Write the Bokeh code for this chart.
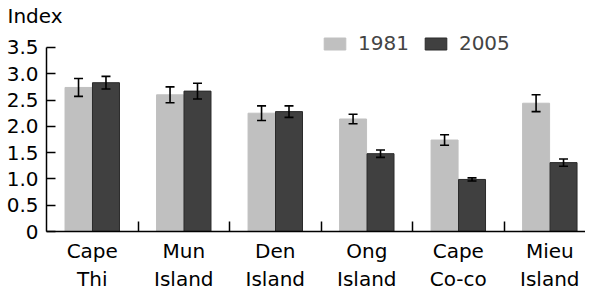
from bokeh.plotting import figure
from bokeh.models import (ColumnDataSource, Whisker, TeeHead, FixedTicker, Legend,
                          LegendItem, Range1d, PrintfTickFormatter)
from bokeh.embed import file_html
from bokeh.resources import INLINE

categories = ["Cape\nThi", "Mun\nIsland", "Den\nIsland", "Ong\nIsland", "Cape\nCo-co", "Mieu\nIsland"]
v1981 = [2.74, 2.60, 2.25, 2.14, 1.74, 2.44]
e1981 = [0.17, 0.15, 0.14, 0.09, 0.10, 0.16]
v2005 = [2.83, 2.67, 2.28, 1.48, 0.99, 1.31]
e2005 = [0.12, 0.15, 0.11, 0.07, 0.03, 0.07]
y_ticks = [0, 0.5, 1.0, 1.5, 2.0, 2.5, 3.0, 3.5]

FONT = "DejaVu Sans"
LIGHT = "#c0c0c0"
DARK = "#404040"

n = len(categories)
centers = [i + 0.5 for i in range(n)]
off = 0.15
bw = 0.295

src1 = ColumnDataSource(dict(x=[c - off for c in centers], top=v1981,
                             up=[v + e for v, e in zip(v1981, e1981)],
                             lo=[v - e for v, e in zip(v1981, e1981)]))
src2 = ColumnDataSource(dict(x=[c + off for c in centers], top=v2005,
                             up=[v + e for v, e in zip(v2005, e2005)],
                             lo=[v - e for v, e in zip(v2005, e2005)]))

p = figure(frame_width=539, frame_height=202, output_backend="svg", toolbar_location=None,
           x_range=Range1d(0, 5.89), y_range=Range1d(0, 3.842),
           min_border_left=46, min_border_right=0, min_border_top=0, min_border_bottom=0,
           title="Index")
p.outline_line_color = None
p.grid.grid_line_color = None
p.background_fill_color = "white"
p.title.align = "left"
p.title.offset = -39
p.title.text_font = FONT
p.title.text_font_size = "20px"
p.title.text_font_style = "normal"
p.title.text_color = "black"
p.title.standoff = 3

r1 = p.vbar(x="x", top="top", width=bw, source=src1, fill_color=LIGHT, line_color=LIGHT)
r2 = p.vbar(x="x", top="top", width=bw, source=src2, fill_color=DARK, line_color="#2a2a2a")

for s in (src1, src2):
    w = Whisker(base="x", upper="up", lower="lo", source=s, line_color="black", line_width=1.6,
                level="overlay",
                upper_head=TeeHead(size=9, line_color="black", line_width=1.6),
                lower_head=TeeHead(size=9, line_color="black", line_width=1.6))
    p.add_layout(w)

# y axis
ya = p.yaxis[0]
ya.bounds = (0, 3.5)
ya.ticker = FixedTicker(ticks=y_ticks)
ya.formatter = PrintfTickFormatter(format="%.1f")
ya.major_label_overrides = {0: "0"}
ya.major_tick_in = 9
ya.major_tick_out = 0
ya.minor_tick_in = 0
ya.minor_tick_out = 0
ya.axis_line_width = 1.5
ya.major_tick_line_width = 1.5
ya.major_label_text_font = FONT
ya.major_label_text_font_size = "20px"
ya.major_label_text_color = "black"
ya.major_label_standoff = 8

# x axis
xa = p.xaxis[0]
xa.ticker = FixedTicker(ticks=centers, minor_ticks=list(range(1, n)))
xa.major_label_overrides = {c: lab for c, lab in zip(centers, categories)}
xa.major_tick_in = 0
xa.major_tick_out = 0
xa.minor_tick_in = 10
xa.minor_tick_out = 0
xa.minor_tick_line_width = 1.5
xa.minor_tick_line_color = "black"
xa.axis_line_width = 1.5
xa.major_label_text_font = FONT
xa.major_label_text_font_size = "20px"
xa.major_label_text_color = "black"
xa.major_label_text_line_height = 1.2
xa.major_label_standoff = 7

legend = Legend(items=[LegendItem(label="1981", renderers=[r1]),
                       LegendItem(label="2005", renderers=[r2])],
                orientation="horizontal", location=(275, 176),
                glyph_width=27, glyph_height=15, label_standoff=10, spacing=13,
                padding=0, margin=0, border_line_color=None, background_fill_alpha=0,
                label_text_font=FONT, label_text_font_size="20px", label_height=15)
p.add_layout(legend, "center")

open("out.html", "w").write(file_html(p, INLINE))
